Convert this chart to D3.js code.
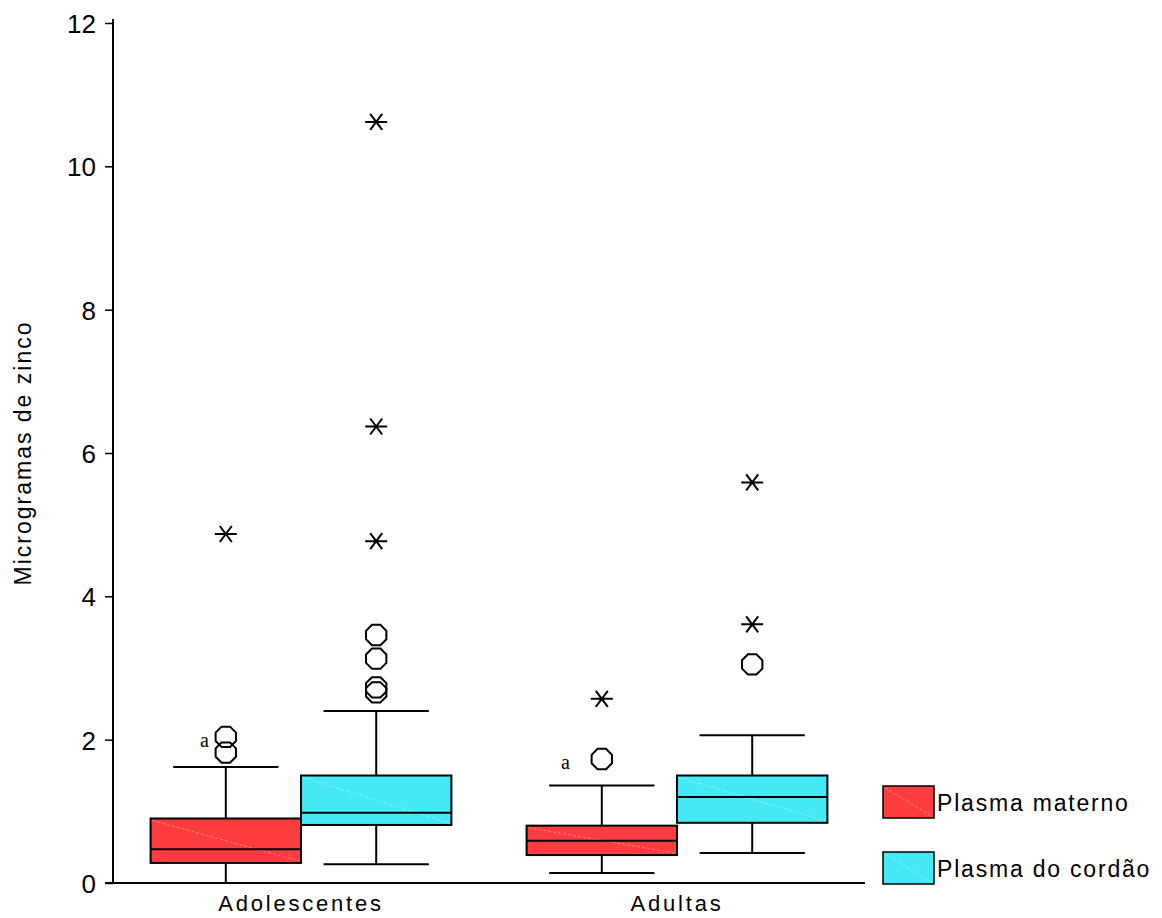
<!DOCTYPE html>
<html>
<head>
<meta charset="utf-8">
<script src="https://cdn.jsdelivr.net/npm/d3@7"></script>
<style>
  body { margin: 0; background: #fff; }
  svg { display: block; }
</style>
</head>
<body>
<svg id="chart" width="1162" height="918"></svg>
<script>
// Zinc per group (boxplot summaries), two series per group
const groups = ["Adolescentes", "Adultas"];
const series = ["Plasma materno", "Plasma do cordão"];
const colors = ["#FF3D41", "#45E9F5"];
const yTicks = [0, 2, 4, 6, 8, 10, 12];

// [lowerWhisker, q1, median, q3, upperWhisker]
const maternoStats = [[0.0, 0.28, 0.47, 0.90, 1.62], [0.14, 0.39, 0.59, 0.80, 1.36]];
const cordaoStats  = [[0.26, 0.81, 0.98, 1.50, 2.40], [0.42, 0.84, 1.20, 1.50, 2.06]];
// Outliers (circles) and extreme values (stars)
const maternoOutliers = [[1.82, 2.04], [1.73]];
const maternoExtremes = [[4.87], [2.57]];
const cordaoOutliers  = [[2.66, 2.73, 3.13, 3.46], [3.05]];
const cordaoExtremes  = [[4.77, 6.37, 10.62], [3.61, 5.59]];
// Group-comparison letter annotation shown next to the maternal outliers
const letterGroups = [0, 1];
const letterValues = [2.04, 1.73];
const letterTexts = ["a", "a"];

const svg = d3.select("#chart");
const margin = { left: 113, right: 297, top: 23, bottom: 35 };
const W = 1162, H = 918;
const sansFont = "Liberation Sans, Arial, sans-serif";

const x = d3.scaleBand().domain(groups).range([margin.left, W - margin.right]).paddingInner(0).paddingOuter(0);
const y = d3.scaleLinear().domain([0, 12]).range([H - margin.bottom, margin.top]);

const boxW = x.bandwidth() * 0.4;
const capW = boxW * 0.7;

// Axes
const yAxis = d3.axisLeft(y).tickValues(yTicks).tickSize(8).tickSizeOuter(0).tickFormat(d3.format("d"));
const gy = svg.append("g").attr("transform", `translate(${margin.left},0)`).call(yAxis);
gy.select(".domain").attr("d", `M0,${y(0)}V${y(12) - 4}`).attr("stroke", "#000").attr("stroke-width", 2);
gy.selectAll(".tick line").attr("stroke", "#000").attr("stroke-width", 1.5);
gy.selectAll(".tick text").attr("font-family", sansFont)
  .attr("font-size", 26).attr("fill", "#000").attr("x", -17).attr("dy", "0.36em");

const xAxis = d3.axisBottom(x).tickSize(0).tickSizeOuter(0);
const gx = svg.append("g").attr("transform", `translate(0,${y(0)})`).call(xAxis);
gx.select(".domain").attr("d", `M${margin.left - 8},0H${W - margin.right}`).attr("stroke", "#000").attr("stroke-width", 2);
gx.selectAll(".tick text").attr("font-family", sansFont)
  .attr("font-size", 22).attr("fill", "#000").attr("y", 12).attr("dy", "0.71em")
  .attr("letter-spacing", "2.8px");

svg.append("text")
  .attr("transform", `translate(31,${(y(0) + y(12)) / 2}) rotate(-90)`)
  .attr("text-anchor", "middle")
  .attr("font-family", sansFont)
  .attr("font-size", 23).attr("fill", "#000")
  .attr("letter-spacing", "2px")
  .text("Microgramas de zinco");

// Octagon outlier marker
function octagon(cx, cy, r) {
  const pts = d3.range(8).map(i => {
    const a = Math.PI / 8 + i * Math.PI / 4;
    return [cx + r * Math.cos(a), cy + r * Math.sin(a)];
  });
  return "M" + pts.map(p => p.join(",")).join("L") + "Z";
}
// Star marker: horizontal bar plus an X
function star(cx, cy) {
  return `M${cx - 11},${cy}H${cx + 11}` +
         `M${cx - 6},${cy - 8}L${cx + 6},${cy + 8}` +
         `M${cx - 6},${cy + 8}L${cx + 6},${cy - 8}`;
}

const allStats = [maternoStats, cordaoStats];
const allOut = [maternoOutliers, cordaoOutliers];
const allExt = [maternoExtremes, cordaoExtremes];

const plot = svg.append("g");
groups.forEach((g, gi) => {
  const center = x(g) + x.bandwidth() / 2;
  series.forEach((s, si) => {
    const cx = si === 0 ? center - boxW / 2 : center + boxW / 2;
    const [lo, q1, med, q3, hi] = allStats[si][gi];
    const left = cx - boxW / 2;
    const bg = plot.append("g");
    // whiskers
    bg.append("line").attr("x1", cx).attr("x2", cx).attr("y1", y(q3)).attr("y2", y(hi)).attr("stroke", "#000").attr("stroke-width", 2);
    bg.append("line").attr("x1", cx).attr("x2", cx).attr("y1", y(q1)).attr("y2", y(lo)).attr("stroke", "#000").attr("stroke-width", 2);
    bg.append("line").attr("x1", cx - capW / 2).attr("x2", cx + capW / 2).attr("y1", y(hi)).attr("y2", y(hi)).attr("stroke", "#000").attr("stroke-width", 2);
    bg.append("line").attr("x1", cx - capW / 2).attr("x2", cx + capW / 2).attr("y1", y(lo)).attr("y2", y(lo)).attr("stroke", "#000").attr("stroke-width", 2);
    // box
    bg.append("rect").attr("x", left).attr("y", y(q3)).attr("width", boxW).attr("height", y(q1) - y(q3))
      .attr("fill", colors[si]).attr("stroke", "none");
    bg.append("line").attr("x1", left + 2).attr("y1", y(q3) + 2).attr("x2", left + boxW - 2).attr("y2", y(q1) - 2)
      .attr("stroke", "#fff").attr("stroke-opacity", 0.45).attr("stroke-width", 0.8).attr("stroke-dasharray", "3,2");
    bg.append("rect").attr("x", left).attr("y", y(q3)).attr("width", boxW).attr("height", y(q1) - y(q3))
      .attr("fill", "none").attr("stroke", "#000").attr("stroke-width", 2);
    bg.append("line").attr("x1", left).attr("x2", left + boxW).attr("y1", y(med)).attr("y2", y(med)).attr("stroke", "#000").attr("stroke-width", 2);
    // outliers
    allOut[si][gi].forEach(v => {
      bg.append("path").attr("d", octagon(cx, y(v), 11)).attr("fill", "none").attr("stroke", "#000").attr("stroke-width", 2);
    });
    allExt[si][gi].forEach(v => {
      bg.append("path").attr("d", star(cx, y(v))).attr("fill", "none").attr("stroke", "#000").attr("stroke-width", 2);
    });
  });
});

// Letters sit to the left of the maternal outlier column
const letterGap = [17, 32];
letterTexts.forEach((t, i) => {
  const gi = letterGroups[i];
  const cx = x(groups[gi]) + x.bandwidth() / 2 - boxW / 2;
  svg.append("text").attr("x", cx - letterGap[i]).attr("y", y(letterValues[i]) + 10)
    .attr("text-anchor", "end")
    .attr("font-family", "Liberation Serif, Times New Roman, serif")
    .attr("font-size", 20).attr("fill", "#000").text(t);
});

// Legend
const legend = svg.append("g");
series.forEach((s, i) => {
  const ly = 786 + i * 66;
  legend.append("rect").attr("x", 883).attr("y", ly).attr("width", 51).attr("height", 32)
    .attr("fill", colors[i]).attr("stroke", "#000").attr("stroke-width", 1.5);
  legend.append("line").attr("x1", 885).attr("y1", ly + 2).attr("x2", 932).attr("y2", ly + 30)
    .attr("stroke", "#fff").attr("stroke-opacity", 0.45).attr("stroke-width", 0.8).attr("stroke-dasharray", "3,2");
  legend.append("text").attr("x", 937).attr("y", ly + 25)
    .attr("font-family", sansFont)
    .attr("font-size", 23).attr("fill", "#000").attr("letter-spacing", "1.8px").text(s);
});
</script>
</body>
</html>
